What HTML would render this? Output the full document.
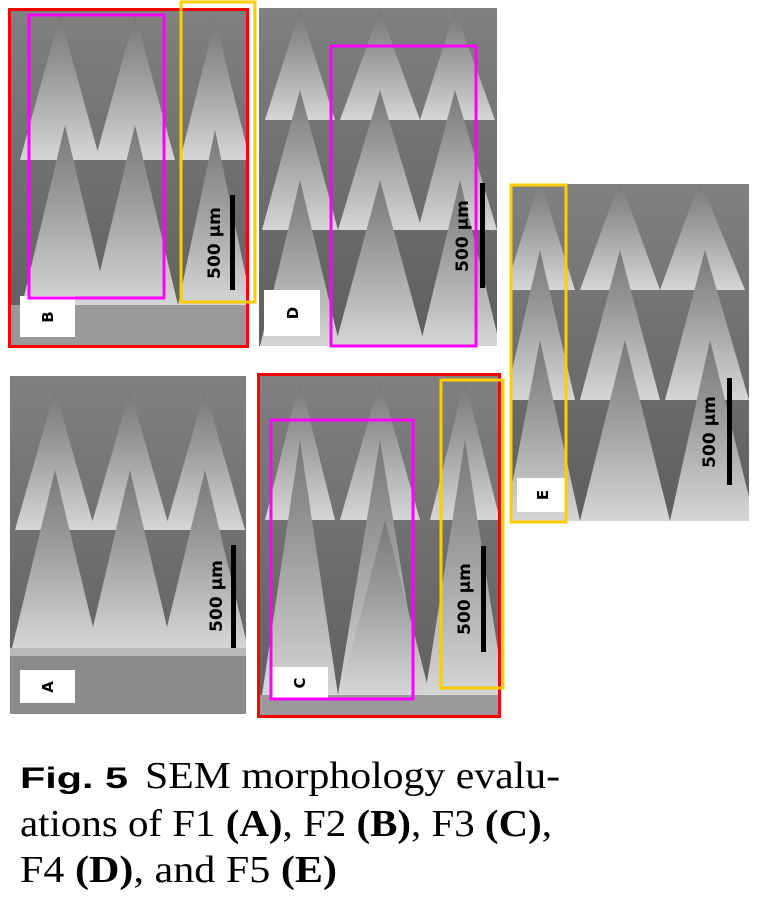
<!DOCTYPE html>
<html><head><meta charset="utf-8"><style>
html,body{margin:0;padding:0;background:#fff;width:757px;height:914px;overflow:hidden}
</style></head><body>
<svg width="757" height="914" viewBox="0 0 757 914" xmlns="http://www.w3.org/2000/svg">
<defs>
<linearGradient id="cone" x1="0" y1="0" x2="0" y2="1">
<stop offset="0" stop-color="#777"/><stop offset="0.45" stop-color="#9e9e9e"/><stop offset="1" stop-color="#d6d6d6"/></linearGradient>
<linearGradient id="bg" x1="0" y1="0" x2="0" y2="1">
<stop offset="0" stop-color="#808080"/><stop offset="1" stop-color="#5e5e5e"/></linearGradient>
<clipPath id="cA"><rect x="10" y="376" width="236" height="338"/></clipPath>
<clipPath id="cB"><rect x="10" y="10" width="236" height="335"/></clipPath>
<clipPath id="cD"><rect x="259" y="8" width="238" height="338"/></clipPath>
<clipPath id="cE"><rect x="510" y="184" width="239" height="337"/></clipPath>
<clipPath id="cC"><rect x="259" y="375" width="239" height="341"/></clipPath>
</defs>

<!-- Panel A -->
<g clip-path="url(#cA)">
<rect x="10" y="376" width="236" height="338" fill="url(#bg)"/>
<g fill="url(#cone)">
<polygon points="55,390 15,530 95,530"/><polygon points="130,390 90,530 170,530"/><polygon points="205,390 165,530 245,530"/>
<polygon points="55,470 12,648 98,648"/><polygon points="130,470 88,648 172,648"/><polygon points="205,470 162,648 248,648"/>
</g>
<rect x="10" y="648" width="236" height="8" fill="#b8b8b8"/>
<rect x="10" y="656" width="236" height="58" fill="#8a8a8a"/>
<rect x="231" y="545" width="5" height="103" fill="#000"/>
<text transform="translate(222,596) rotate(-90)" text-anchor="middle" font-family="DejaVu Sans,sans-serif" font-weight="bold" font-size="17" fill="#000">500 µm</text>
<rect x="20" y="670" width="55" height="33" fill="#fff"/>
<text transform="translate(53,687) rotate(-90)" text-anchor="middle" font-family="DejaVu Sans,sans-serif" font-weight="bold" font-size="15">A</text>
</g>

<!-- Panel B -->
<g clip-path="url(#cB)">
<rect x="10" y="10" width="236" height="335" fill="url(#bg)"/>
<g fill="url(#cone)">
<polygon points="60,15 20,160 100,160"/><polygon points="135,15 95,160 175,160"/><polygon points="215,20 180,160 250,160"/>
<polygon points="65,125 22,305 108,305"/><polygon points="135,125 92,305 178,305"/><polygon points="215,130 178,305 252,305"/>
</g>
<rect x="10" y="305" width="236" height="40" fill="#999"/>
<rect x="230" y="195" width="5" height="95" fill="#000"/>
<text transform="translate(220,243) rotate(-90)" text-anchor="middle" font-family="DejaVu Sans,sans-serif" font-weight="bold" font-size="17" fill="#000">500 µm</text>
<rect x="20" y="296" width="55" height="41" fill="#fff"/>
<text transform="translate(53,317) rotate(-90)" text-anchor="middle" font-family="DejaVu Sans,sans-serif" font-weight="bold" font-size="15">B</text>
</g>
<rect x="9.5" y="9.5" width="238" height="337" fill="none" stroke="#f00" stroke-width="3"/>
<rect x="29" y="15" width="135" height="283" fill="none" stroke="#f0f" stroke-width="3"/>
<rect x="181" y="2" width="74" height="300" fill="none" stroke="#ffcc00" stroke-width="3"/>

<!-- Panel D -->
<g clip-path="url(#cD)">
<rect x="259" y="8" width="238" height="338" fill="url(#bg)"/>
<g fill="url(#cone)">
<polygon points="300,10 265,120 335,120"/><polygon points="380,10 340,120 420,120"/><polygon points="455,10 420,120 495,120"/>
<polygon points="300,90 262,230 338,230"/><polygon points="380,90 338,230 422,230"/><polygon points="455,90 418,230 497,230"/>
<polygon points="300,180 260,346 340,346"/><polygon points="380,180 335,346 425,346"/><polygon points="460,180 420,346 500,346"/>
</g>
<rect x="480" y="183" width="5" height="105" fill="#000"/>
<text transform="translate(468,236) rotate(-90)" text-anchor="middle" font-family="DejaVu Sans,sans-serif" font-weight="bold" font-size="17" fill="#000">500 µm</text>
<rect x="264" y="290" width="56" height="46" fill="#fff"/>
<text transform="translate(298,313) rotate(-90)" text-anchor="middle" font-family="DejaVu Sans,sans-serif" font-weight="bold" font-size="15">D</text>
</g>
<rect x="331" y="46" width="145" height="300" fill="none" stroke="#f0f" stroke-width="3"/>

<!-- Panel E -->
<g clip-path="url(#cE)">
<rect x="510" y="184" width="239" height="337" fill="url(#bg)"/>
<g fill="url(#cone)">
<polygon points="540,180 505,290 575,290"/><polygon points="620,180 580,290 660,290"/><polygon points="700,180 660,290 745,290"/>
<polygon points="540,250 505,400 575,400"/><polygon points="620,250 580,400 660,400"/><polygon points="705,250 665,400 749,400"/>
<polygon points="540,340 505,521 580,521"/><polygon points="625,340 580,521 670,521"/><polygon points="710,340 670,521 755,521"/>
</g>
<rect x="727" y="378" width="5" height="107" fill="#000"/>
<text transform="translate(715,432) rotate(-90)" text-anchor="middle" font-family="DejaVu Sans,sans-serif" font-weight="bold" font-size="17" fill="#000">500 µm</text>
<rect x="517" y="478" width="50" height="34" fill="#fff"/>
<text transform="translate(548,495) rotate(-90)" text-anchor="middle" font-family="DejaVu Sans,sans-serif" font-weight="bold" font-size="15">E</text>
</g>
<rect x="511" y="185" width="55" height="337" fill="none" stroke="#ffcc00" stroke-width="3"/>

<!-- Panel C -->
<g clip-path="url(#cC)">
<rect x="259" y="375" width="239" height="341" fill="url(#bg)"/>
<g fill="url(#cone)">
<polygon points="300,380 265,520 335,520"/><polygon points="380,380 340,520 420,520"/><polygon points="465,380 430,520 500,520"/>
<polygon points="300,440 262,695 338,695"/><polygon points="380,440 338,695 422,695"/><polygon points="465,440 425,695 505,695"/>
</g>
<polygon points="385,520 340,695 430,695" fill="url(#cone)"/>
<rect x="259" y="695" width="239" height="21" fill="#9a9a9a"/>
<rect x="481" y="546" width="5" height="106" fill="#000"/>
<text transform="translate(470,599) rotate(-90)" text-anchor="middle" font-family="DejaVu Sans,sans-serif" font-weight="bold" font-size="17" fill="#000">500 µm</text>
<rect x="271" y="667" width="57" height="32" fill="#fff"/>
<text transform="translate(305,683) rotate(-90)" text-anchor="middle" font-family="DejaVu Sans,sans-serif" font-weight="bold" font-size="15">C</text>
</g>
<rect x="258.5" y="374.5" width="241" height="342" fill="none" stroke="#f00" stroke-width="3"/>
<rect x="271" y="420" width="142" height="279" fill="none" stroke="#f0f" stroke-width="3"/>
<rect x="441" y="380" width="62" height="308" fill="none" stroke="#ffcc00" stroke-width="3"/>

<!-- Caption -->
<text x="20" y="788" font-family="Liberation Sans,sans-serif" font-weight="bold" font-size="30" textLength="108" lengthAdjust="spacingAndGlyphs" fill="#000">Fig. 5</text>
<text x="145" y="788" font-family="Liberation Serif,serif" font-size="38" textLength="415" lengthAdjust="spacingAndGlyphs" fill="#000">SEM morphology evalu-</text>
<text x="20" y="836" font-family="Liberation Serif,serif" font-size="38" textLength="532" lengthAdjust="spacingAndGlyphs" fill="#000">ations of F1 <tspan font-weight="bold">(A)</tspan>, F2 <tspan font-weight="bold">(B)</tspan>, F3 <tspan font-weight="bold">(C)</tspan>,</text>
<text x="20" y="882" font-family="Liberation Serif,serif" font-size="38" textLength="317" lengthAdjust="spacingAndGlyphs" fill="#000">F4 <tspan font-weight="bold">(D)</tspan>, and F5 <tspan font-weight="bold">(E)</tspan></text>
</svg>
</body></html>
